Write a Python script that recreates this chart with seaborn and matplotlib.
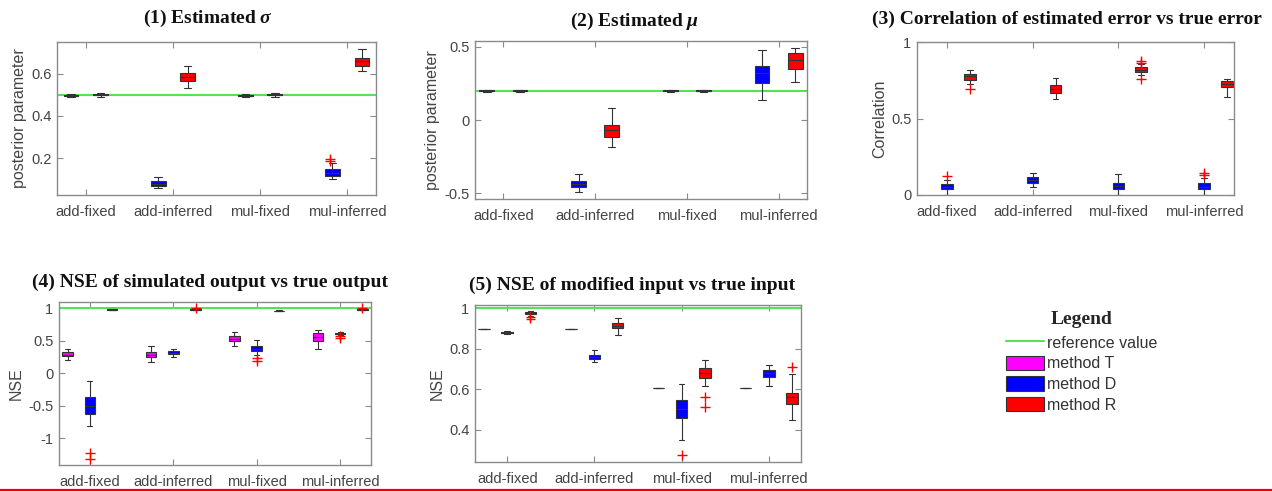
import numpy as np
import pandas as pd
import matplotlib
matplotlib.use("Agg")
import matplotlib.pyplot as plt
import seaborn as sns
from matplotlib.lines import Line2D
from matplotlib.patches import Patch
from matplotlib.ticker import FuncFormatter

# ---------------- data ----------------
categories = ["add-fixed", "add-inferred", "mul-fixed", "mul-inferred"]
methods = ["method T", "method D", "method R"]
method_colors = ["#ff00ff", "#0000ff", "#ff0000"]

# five-number summaries [whisker low, q1, median, q3, whisker high] per category
sigma_D = [[0.490, 0.494, 0.496, 0.499, 0.506], [0.055, 0.068, 0.078, 0.090, 0.111],
           [0.489, 0.493, 0.495, 0.498, 0.503], [0.098, 0.116, 0.130, 0.148, 0.178]]
sigma_R = [[0.492, 0.499, 0.502, 0.505, 0.509], [0.532, 0.568, 0.585, 0.606, 0.640],
           [0.492, 0.499, 0.502, 0.505, 0.509], [0.616, 0.640, 0.660, 0.675, 0.719]]
sigma_fliers = [("mul-inferred", "method D", 0.195), ("mul-inferred", "method D", 0.186)]
sigma_ref = 0.5

mu_D = [[0.194, 0.197, 0.200, 0.203, 0.206], [-0.493, -0.455, -0.435, -0.416, -0.370],
        [0.194, 0.197, 0.200, 0.203, 0.206], [0.136, 0.250, 0.320, 0.370, 0.480]]
mu_R = [[0.194, 0.197, 0.200, 0.203, 0.206], [-0.186, -0.114, -0.070, -0.034, 0.080],
        [0.194, 0.197, 0.200, 0.203, 0.206], [0.257, 0.350, 0.410, 0.460, 0.495]]
mu_fliers = []
mu_ref = 0.2

corr_D = [[0.000, 0.037, 0.055, 0.072, 0.098], [0.050, 0.081, 0.100, 0.116, 0.146],
          [0.000, 0.040, 0.060, 0.079, 0.138], [0.000, 0.040, 0.055, 0.076, 0.110]]
corr_R = [[0.727, 0.753, 0.775, 0.793, 0.819], [0.627, 0.666, 0.690, 0.718, 0.766],
          [0.782, 0.806, 0.820, 0.834, 0.858], [0.638, 0.703, 0.725, 0.747, 0.760]]
corr_fliers = [("add-fixed", "method D", 0.124), ("add-fixed", "method R", 0.692),
               ("mul-fixed", "method R", 0.878), ("mul-fixed", "method R", 0.862),
               ("mul-fixed", "method R", 0.760), ("mul-inferred", "method D", 0.144),
               ("mul-inferred", "method D", 0.133)]
corr_ref = 1.0

nse_out_T = [[0.205, 0.267, 0.290, 0.333, 0.370], [0.170, 0.251, 0.290, 0.328, 0.420],
             [0.426, 0.503, 0.530, 0.569, 0.640], [0.370, 0.497, 0.560, 0.615, 0.667]]
nse_out_D = [[-0.805, -0.626, -0.500, -0.359, -0.113], [0.256, 0.297, 0.310, 0.338, 0.374],
             [0.280, 0.350, 0.380, 0.420, 0.510], [0.585, 0.600, 0.610, 0.630, 0.640]]
nse_out_R = [[0.975, 0.980, 0.983, 0.987, 0.990], [0.975, 0.980, 0.984, 0.988, 0.993],
             [0.955, 0.960, 0.963, 0.966, 0.970], [0.975, 0.980, 0.984, 0.988, 0.993]]
nse_out_fliers = [("add-fixed", "method D", -1.23), ("add-fixed", "method D", -1.32),
                  ("add-inferred", "method R", 1.0), ("mul-fixed", "method D", 0.230),
                  ("mul-fixed", "method D", 0.195), ("mul-inferred", "method D", 0.574),
                  ("mul-inferred", "method D", 0.540), ("mul-inferred", "method R", 1.0)]
nse_out_ref = 1.0

nse_in_T = [[0.900] * 5, [0.900] * 5, [0.607] * 5, [0.607] * 5]
nse_in_D = [[0.873, 0.876, 0.880, 0.884, 0.888], [0.734, 0.752, 0.760, 0.772, 0.793],
            [0.347, 0.460, 0.500, 0.545, 0.625], [0.615, 0.661, 0.680, 0.694, 0.720]]
nse_in_R = [[0.964, 0.970, 0.975, 0.980, 0.987], [0.868, 0.904, 0.915, 0.930, 0.955],
            [0.615, 0.656, 0.680, 0.706, 0.747], [0.446, 0.526, 0.560, 0.583, 0.674]]
nse_in_fliers = [("add-fixed", "method R", 0.959), ("add-fixed", "method R", 0.950),
                 ("mul-fixed", "method D", 0.276), ("mul-fixed", "method R", 0.560),
                 ("mul-fixed", "method R", 0.512), ("mul-inferred", "method R", 0.711)]
nse_in_ref = 1.0

# ---------------- style ----------------
sns.set_theme(style="white")
plt.rcParams["font.family"] = ["Liberation Sans", "DejaVu Sans"]
plt.rcParams["axes.unicode_minus"] = False
plt.rcParams["mathtext.fontset"] = "custom"
plt.rcParams["mathtext.it"] = "Liberation Serif:italic:bold"
plt.rcParams["mathtext.rm"] = "Liberation Serif:bold"

TICK_C = "#444444"
SPINE_C = "#8a8a8a"
GREEN = "#55e355"
palette = dict(zip(methods, method_colors))
flier_pal = {m: "#ff0000" for m in methods}


def to_long(stats_by_method):
    rows = []
    for m, stats in stats_by_method.items():
        for c, five in zip(categories, stats):
            for v in five:
                rows.append((c, m, v))
    return pd.DataFrame(rows, columns=["cat", "method", "value"])


def draw(ax, stats, fliers, hue_order, ref, ylim, yticks, ylabel, width, gap, xpad):
    df = to_long(stats)
    ax.axhline(ref, color=GREEN, lw=1.5, zorder=1.5)
    sns.boxplot(data=df, x="cat", y="value", hue="method", order=categories,
                hue_order=hue_order, palette=palette, whis=np.inf, width=width,
                gap=gap, linecolor="#333333", linewidth=0.8, saturation=1,
                legend=False, ax=ax)
    if fliers:
        fl = pd.DataFrame(fliers, columns=["cat", "method", "value"])
        sns.stripplot(data=fl, x="cat", y="value", hue="method", order=categories,
                      hue_order=hue_order, palette=flier_pal, dodge=True, jitter=False,
                      marker="+", size=7, linewidth=1, legend=False, ax=ax, zorder=4)
    ax.set_xlim(-xpad, len(categories) - 1 + xpad)
    ax.set_ylim(*ylim)
    ax.set_yticks(yticks)
    ax.yaxis.set_major_formatter(FuncFormatter(lambda v, p: "%g" % v))
    ax.set_xlabel("")
    ax.set_ylabel(ylabel, fontsize=11.5, color=TICK_C, labelpad=3)
    ax.tick_params(direction="in", length=4, width=0.8, color=SPINE_C,
                   labelcolor=TICK_C, labelsize=10.5, top=True, right=True,
                   bottom=True, left=True, pad=4)
    ax.tick_params(axis="x", pad=7)
    for s in ax.spines.values():
        s.set_color(SPINE_C)
        s.set_linewidth(1.0)
    ax.set_facecolor("white")


W, H = 1272, 492
fig = plt.figure(figsize=(W / 100, H / 100), dpi=100)
fig.patch.set_facecolor("white")


def box(l, r, t, b):
    return [l / W, 1 - b / H, (r - l) / W, (b - t) / H]


ax1 = fig.add_axes(box(57, 376, 42, 195))
ax2 = fig.add_axes(box(475, 807, 41, 199))
ax3 = fig.add_axes(box(917, 1234, 42, 195))
ax4 = fig.add_axes(box(59, 371, 302, 465))
ax5 = fig.add_axes(box(475, 801, 305, 462))

draw(ax1, {"method D": sigma_D, "method R": sigma_R}, sigma_fliers,
     ["method D", "method R"], sigma_ref, (0.024, 0.752), [0.2, 0.4, 0.6],
     "posterior parameter", 0.68, 0.5, 0.33)
draw(ax2, {"method D": mu_D, "method R": mu_R}, mu_fliers,
     ["method D", "method R"], mu_ref, (-0.54, 0.54), [-0.5, 0, 0.5],
     "posterior parameter", 0.72, 0.55, 0.31)
draw(ax3, {"method D": corr_D, "method R": corr_R}, corr_fliers,
     methods, corr_ref, (0, 1), [0, 0.5, 1], "Correlation", 0.8, 0.5, 0.35)
draw(ax4, {"method T": nse_out_T, "method D": nse_out_D, "method R": nse_out_R},
     nse_out_fliers, methods, nse_out_ref, (-1.41, 1.1), [-1, -0.5, 0, 0.5, 1],
     "NSE", 0.8, 0.53, 0.37)
draw(ax5, {"method T": nse_in_T, "method D": nse_in_D, "method R": nse_in_R},
     nse_in_fliers, methods, nse_in_ref, (0.24, 1.017), [0.4, 0.6, 0.8, 1],
     "NSE", 0.8, 0.5, 0.37)

title_kw = dict(family="Liberation Serif", weight="bold", fontsize=14,
                ha="center", va="center", color="#111111")
fig.text(208 / W, 1 - 18 / H, r"(1) Estimated $\sigma$", **title_kw)
fig.text(635 / W, 1 - 21 / H, r"(2) Estimated $\mu$", **title_kw)
fig.text(1067 / W, 1 - 19 / H, "(3) Correlation of estimated error vs true error", **title_kw)
fig.text(210 / W, 1 - 282 / H, "(4) NSE of simulated output vs true output", **title_kw)
fig.text(632 / W, 1 - 285 / H, "(5) NSE of modified input vs true input", **title_kw)

# legend
handles = [Line2D([], [], color=GREEN, lw=1.5),
           Patch(facecolor=method_colors[0], edgecolor="#333333", lw=0.8),
           Patch(facecolor=method_colors[1], edgecolor="#333333", lw=0.8),
           Patch(facecolor=method_colors[2], edgecolor="#333333", lw=0.8)]
labels = ["reference value"] + methods
leg = fig.legend(handles, labels, loc="upper left",
                 bbox_to_anchor=(1006 / W, 1 - 311 / H), frameon=False,
                 title="Legend", fontsize=11.5, handlelength=2.4,
                 handleheight=1.0, labelspacing=0.32, handletextpad=0.15,
                 borderpad=0, borderaxespad=0,
                 title_fontproperties={"family": "Liberation Serif",
                                       "weight": "bold", "size": 14})
for t in leg.get_texts():
    t.set_color("#333333")
leg._legend_box.sep = 5

# red rule at the bottom
fig.add_artist(Line2D([0, 1], [1 - 490 / H, 1 - 490 / H], transform=fig.transFigure,
                      color="#ee0000", lw=1.6))

fig.savefig("out.png", dpi=100, facecolor="white")
